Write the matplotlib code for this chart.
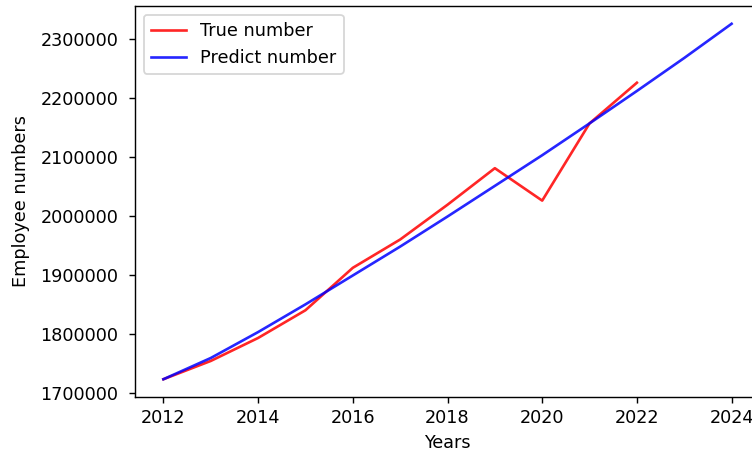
import matplotlib
matplotlib.use("Agg")
import matplotlib.pyplot as plt

# data
years_true = [2012, 2013, 2014, 2015, 2016, 2017, 2018, 2019, 2020, 2021, 2022]
true_number = [1723000, 1754000, 1793000, 1840000, 1912000, 1960000, 2019000,
               2081000, 2026000, 2157000, 2226000]

years_pred = [2012, 2013, 2014, 2015, 2016, 2017, 2018, 2019, 2020, 2021, 2022, 2023, 2024]
predict_number = [1723000, 1759000, 1803000, 1850000, 1899000, 1948000, 1999000,
                  2051000, 2103000, 2157000, 2212000, 2268000, 2326000]

DPI = 127
fig = plt.figure(figsize=(752 / DPI, 454 / DPI), dpi=DPI)
# axes runs past the right edge, as in the reference crop
ax = fig.add_axes([135 / 752, 1 - 397 / 454, 625 / 752, 391 / 454])

ax.plot(years_true, true_number, color='red', alpha=0.85, label='True number')
ax.plot(years_pred, predict_number, color='blue', alpha=0.85, label='Predict number')

ax.set_xticks([2012, 2014, 2016, 2018, 2020, 2022, 2024])
ax.ticklabel_format(axis='y', style='plain', useOffset=False)
ax.tick_params(axis='y', pad=5.8)
ax.set_xlabel('Years')
ax.set_ylabel('Employee numbers', labelpad=6)
ax.legend(loc='upper left')

fig.savefig('out.png', dpi=DPI)
